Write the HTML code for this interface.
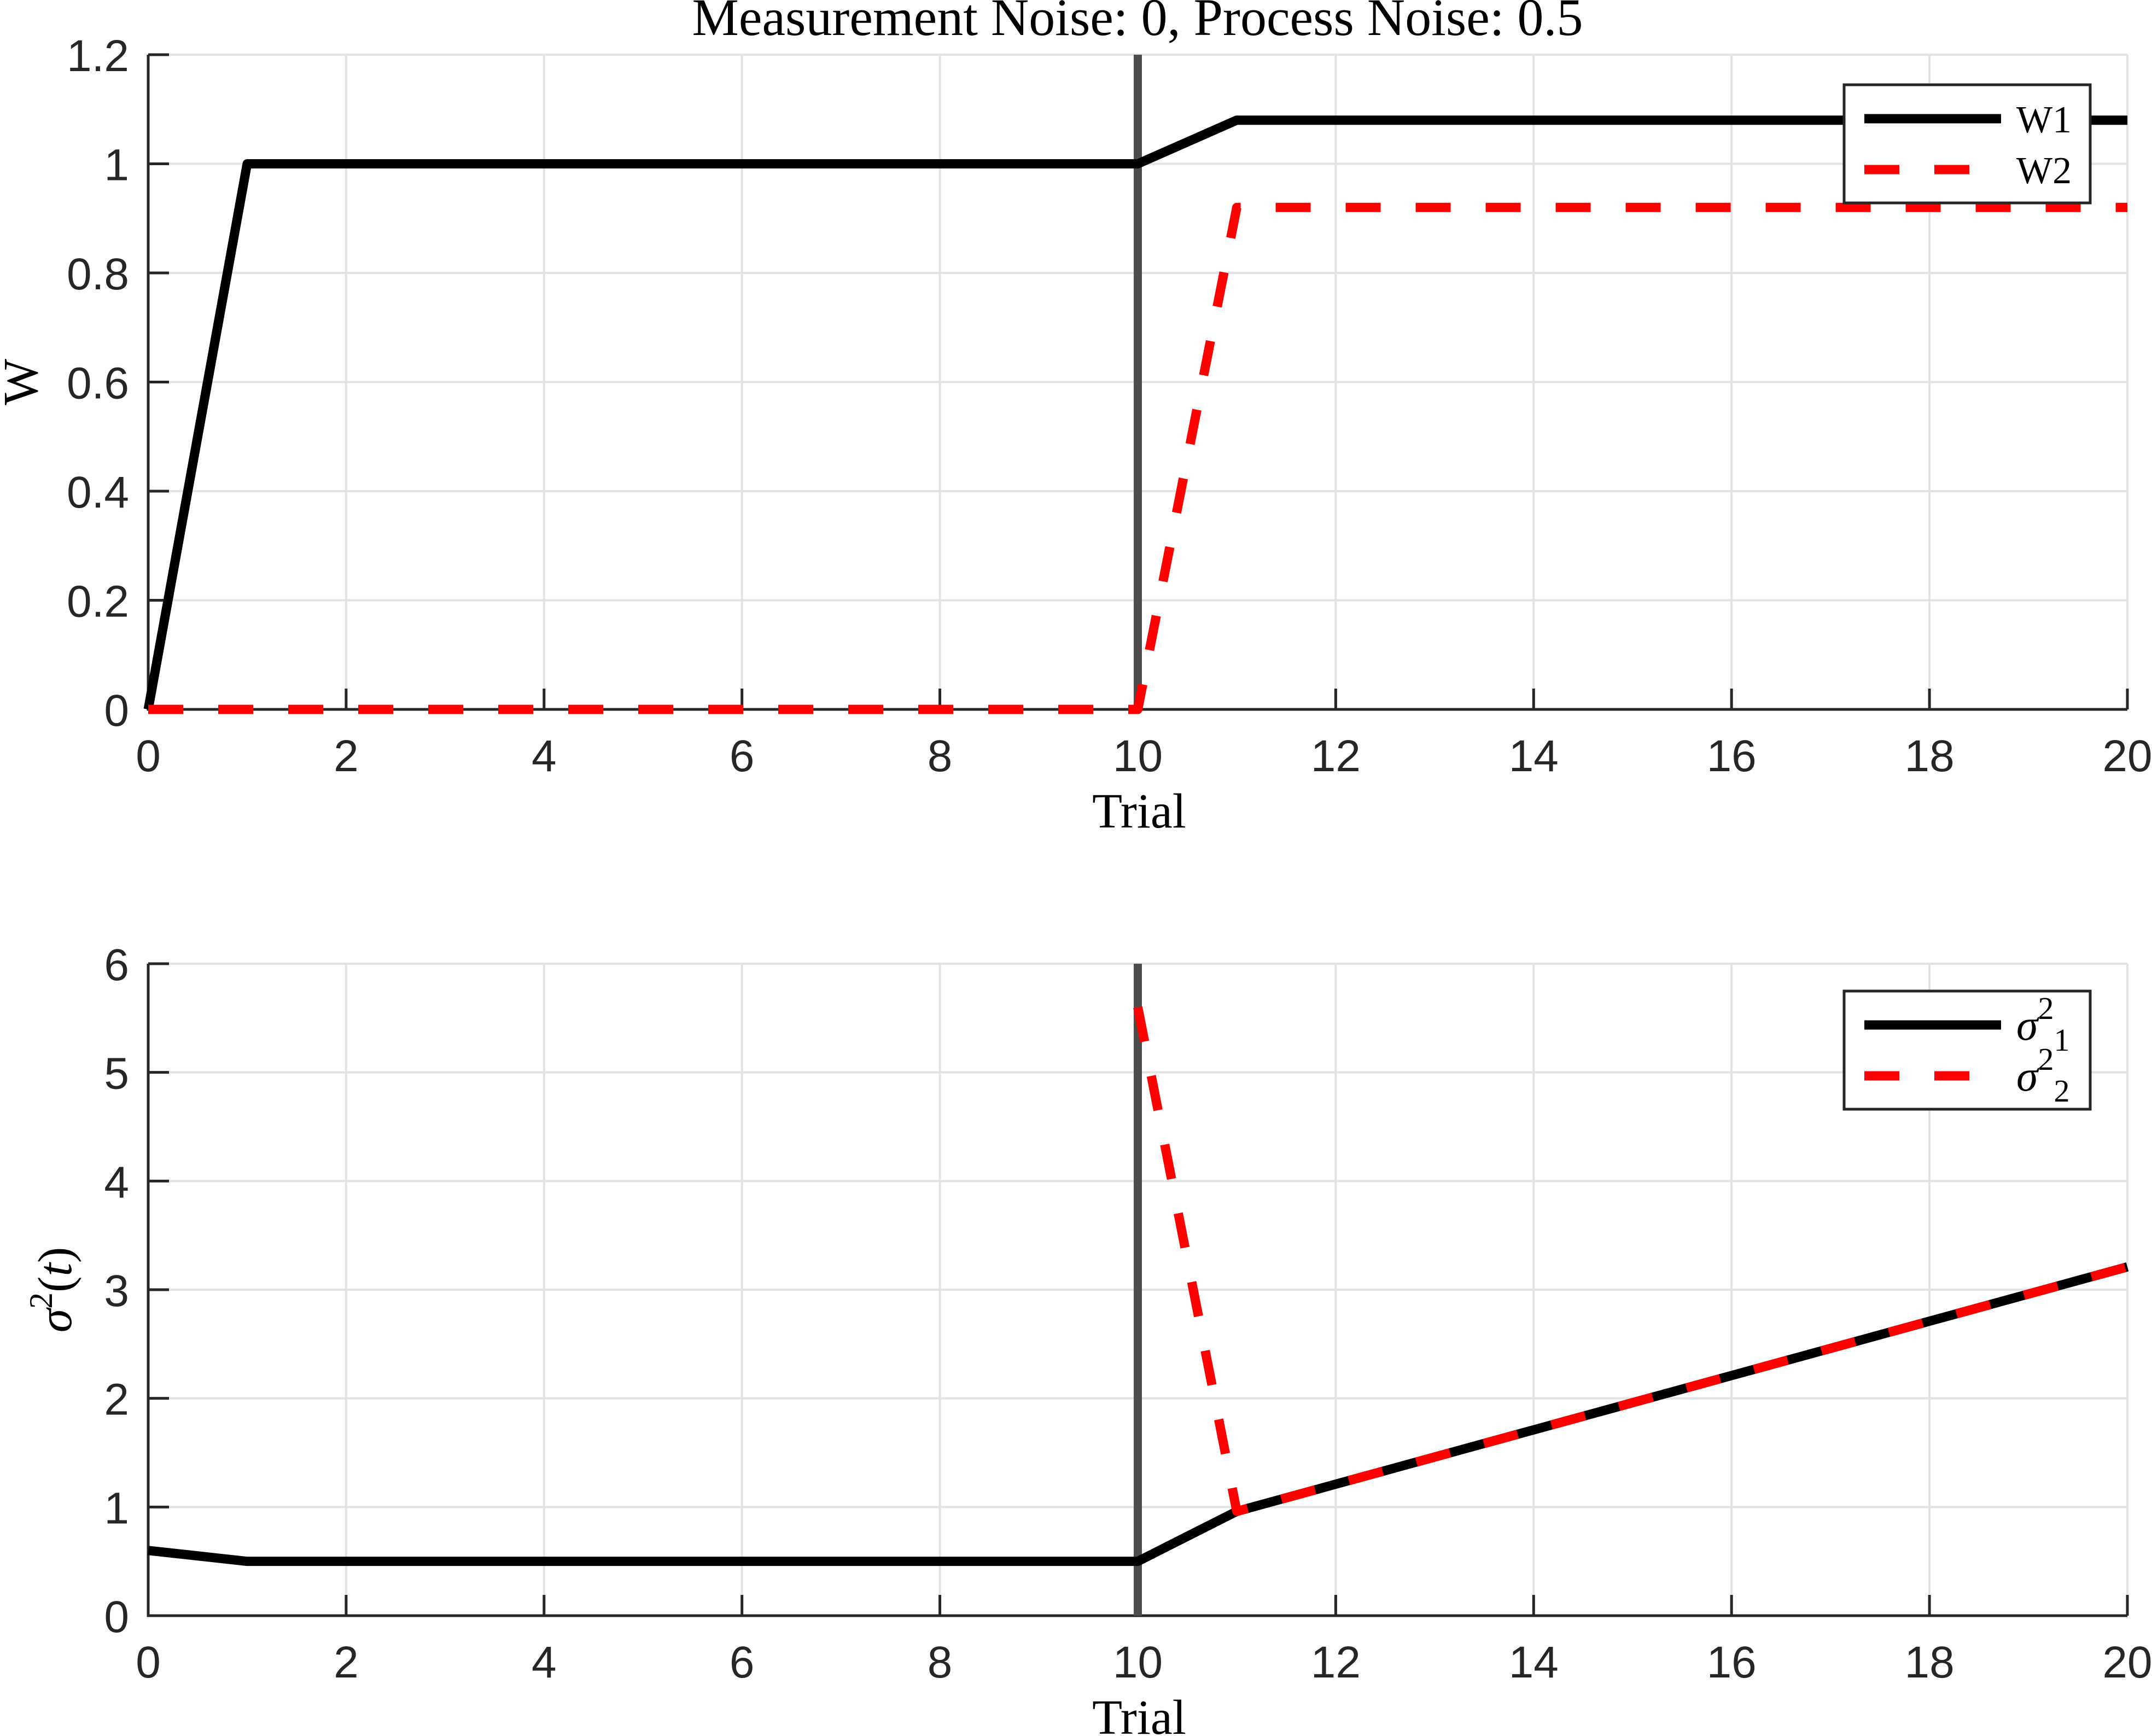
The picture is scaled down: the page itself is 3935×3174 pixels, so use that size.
<!DOCTYPE html>
<html><head><meta charset="utf-8"><style>
html,body{margin:0;padding:0;background:#fff;}
svg{display:block;}
.tick{font-family:"Liberation Sans",sans-serif;font-size:82px;fill:#262626;}
.serif{font-family:"Liberation Serif",serif;fill:#000;}
</style></head><body>
<svg id="chart" width="3935" height="3174" viewBox="0 0 3935 3174" xmlns="http://www.w3.org/2000/svg">
<text class="serif" x="2080" y="64" font-size="96" text-anchor="middle">Measurement Noise: 0, Process Noise: 0.5</text>
<g id="topPanel"></g>
<g id="botPanel"></g>
</svg>
<script>
const trials = [0,1,2,3,4,5,6,7,8,9,10,11,12,13,14,15,16,17,18,19,20];
const w1 = [0,1,1,1,1,1,1,1,1,1,1,1.08,1.08,1.08,1.08,1.08,1.08,1.08,1.08,1.08,1.08];
const w2 = [0,0,0,0,0,0,0,0,0,0,0,0.92,0.92,0.92,0.92,0.92,0.92,0.92,0.92,0.92,0.92];
const sig1 = [0.6,0.5,0.5,0.5,0.5,0.5,0.5,0.5,0.5,0.5,0.5,0.96,1.21,1.46,1.71,1.96,2.21,2.46,2.71,2.96,3.21];
const sig2 = [null,null,null,null,null,null,null,null,null,null,5.6,0.96,1.21,1.46,1.71,1.96,2.21,2.46,2.71,2.96,3.21];
const xTicks = [0,2,4,6,8,10,12,14,16,18,20];
const wTicks = [0,0.2,0.4,0.6,0.8,1,1.2];
const wTickLabels = ["0","0.2","0.4","0.6","0.8","1","1.2"];
const sTicks = [0,1,2,3,4,5,6];
const changeTrial = 10;

const NS="http://www.w3.org/2000/svg";
function mk(tag,attrs,parent){const e=document.createElementNS(NS,tag);for(const k in attrs)e.setAttribute(k,attrs[k]);parent.appendChild(e);return e;}
const AXL=271,AXR=3890;
const xs=v=>AXL+(v-0)/(20-0)*(AXR-AXL);

function panel(g,pTop,pBot,ymax,yTicks,yLabels,series,names,legendY,ylabelFn){
  const ys=v=>pBot-(v/ymax)*(pBot-pTop);
  xTicks.forEach(t=>{const l=mk('line',{x1:xs(t),x2:xs(t),y1:pTop,y2:pBot,stroke:'#e3e3e3','stroke-width':4},g);
    
    });
  yTicks.forEach(t=>{const l=mk('line',{x1:AXL,x2:AXR,y1:ys(t),y2:ys(t),stroke:'#e3e3e3','stroke-width':4},g);
    
    });
  const ax=mk('path',{d:`M${AXL},${pTop} L${AXL},${pBot} L${AXR},${pBot}`,fill:'none',stroke:'#262626','stroke-width':5},g);
  
  
  xTicks.forEach(t=>{
    const tk=mk('line',{x1:xs(t),x2:xs(t),y1:pBot,y2:pBot-38,stroke:'#262626','stroke-width':5},g);
    
    
    const tx=mk('text',{x:xs(t),y:pBot+113,'text-anchor':'middle',class:'tick'},g);tx.textContent=t;
    
    
  });
  yTicks.forEach((t,i)=>{
    const tk=mk('line',{x1:AXL,x2:AXL+38,y1:ys(t),y2:ys(t),stroke:'#262626','stroke-width':5},g);
    
    
    const tx=mk('text',{x:236,y:ys(t)+30,'text-anchor':'end',class:'tick'},g);tx.textContent=yLabels[i];
    
    
  });
  const xl=mk('text',{x:2083,y:pBot+216,'text-anchor':'middle',class:'serif','font-size':90,fill:'#262626'},g);xl.textContent='Trial';
  
  
  ylabelFn(g,(pTop+pBot)/2);
  const vl=mk('line',{x1:xs(changeTrial),x2:xs(changeTrial),y1:pTop,y2:pBot,stroke:'#4d4d4d','stroke-width':15},g);
  
  
  series.forEach((s,si)=>{
    let d='';let pen=false;
    trials.forEach((t,i)=>{const v=s[i];if(v===null){pen=false;return;}d+=(pen?'L':'M')+xs(t)+','+ys(v)+' ';pen=true;});
    const p=mk('path',{d:d,fill:'none',stroke:si?'#ff0000':'#000','stroke-width':17,'stroke-linejoin':'round','stroke-dasharray':si?'64 64':'none'},g);
    
    
  });
  const lb=mk('rect',{x:3372,y:legendY,width:450,height:216,fill:'#fff',stroke:'#262626','stroke-width':5},g);
  
  
  [0,1].forEach(k=>{
    const yy=legendY+62+k*93;
    const ln=mk('line',{x1:3409,x2:3659,y1:yy,y2:yy,stroke:k?'#ff0000':'#000','stroke-width':17,'stroke-dasharray':k?'64 64':'none'},g);
    
    
    names[k](g,yy);
  });
}

const topG=document.getElementById('topPanel');
panel(topG,100,1297,1.2,wTicks,wTickLabels,[w1,w2],[
  (g,yy)=>{const t=mk('text',{x:3687,y:yy+25,class:'serif','font-size':70},g);t.textContent='W1';
    
    },
  (g,yy)=>{const t=mk('text',{x:3687,y:yy+25,class:'serif','font-size':70},g);t.textContent='W2';
    
    }
],155,(g,cy)=>{const t=mk('text',{x:0,y:0,class:'serif','font-size':90,'text-anchor':'middle',fill:'#262626',transform:`translate(68,${cy}) rotate(-90)`},g);t.textContent='W';
  
  });

const botG=document.getElementById('botPanel');
function sigLabel(g,yy,n,name){
  const t=mk('text',{x:3687,y:yy+27,class:'serif','font-size':80,'font-style':'italic'},g);
  
  
  t.innerHTML='σ<tspan dy="-38" font-size="58" font-style="normal">2</tspan><tspan dy="58" font-size="58" font-style="normal">'+n+'</tspan>';
}
panel(botG,1762,2954,6,sTicks,sTicks.map(String),[sig1,sig2],[
  (g,yy)=>sigLabel(g,yy,'1','legend-entry-sigma1'),
  (g,yy)=>sigLabel(g,yy,'2','legend-entry-sigma2')
],1812,(g,cy)=>{const t=mk('text',{x:0,y:0,class:'serif','font-size':88,'text-anchor':'middle',fill:'#262626',transform:`translate(130,${cy}) rotate(-90)`},g);
  
  
  t.innerHTML='<tspan font-style="italic">σ</tspan><tspan dy="-35" font-size="60">2</tspan><tspan dy="35">(</tspan><tspan font-style="italic">t</tspan>)';});
</script>
</body></html>
